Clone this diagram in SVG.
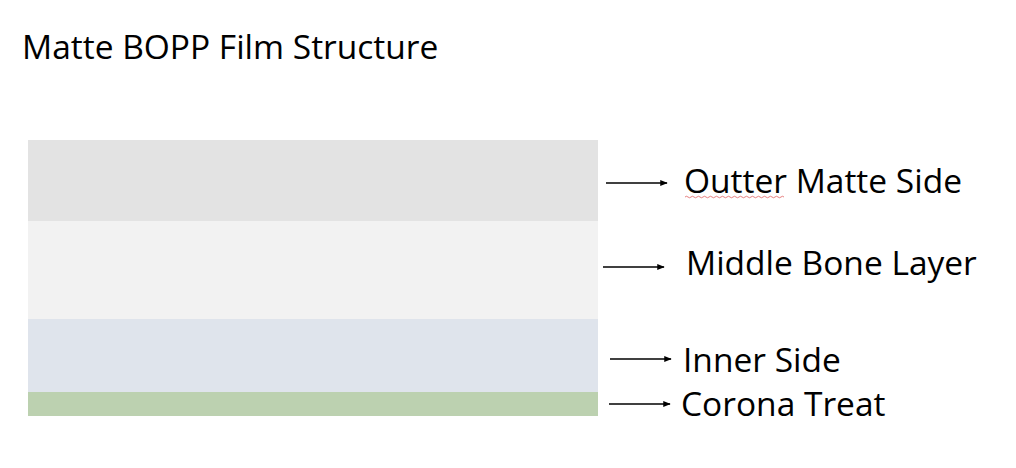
<svg xmlns="http://www.w3.org/2000/svg" width="1016" height="468" viewBox="0 0 1016 468">
<defs>
<marker id="ah" viewBox="0 0 10 10" refX="9" refY="5" markerWidth="5" markerHeight="5" orient="auto" markerUnits="strokeWidth">
<path d="M0,1 L10,5 L0,9 z" fill="#000"/>
</marker>
<style>
.t{font-family:"Open Sans","Noto Sans",sans-serif;fill:#000}
.lbl{font-size:33.5px}
.arr{stroke:#000;stroke-width:1.5;fill:none;marker-end:url(#ah)}
</style>
</defs>
<rect width="1016" height="468" fill="#fff"/>
<text class="t" x="22" y="59" font-size="33.5">Matte BOPP Film Structure</text>
<g id="layer-outer"><rect x="28" y="140" width="570" height="81" fill="#e3e3e3"/></g>
<g id="layer-middle"><rect x="28" y="221" width="570" height="98" fill="#f2f2f2"/></g>
<g id="layer-inner"><rect x="28" y="319" width="570" height="73" fill="#dfe4ec"/></g>
<g id="layer-corona"><rect x="28" y="392" width="570" height="24" fill="#bcd1b0"/></g>
<g id="connectors">
<line class="arr" x1="606" y1="183" x2="667" y2="183"/>
<line class="arr" x1="603" y1="267" x2="664" y2="267"/>
<line class="arr" x1="610" y1="359" x2="671" y2="359"/>
<line class="arr" x1="609" y1="404" x2="670" y2="404"/>
</g>
<g id="label-outer">
<text class="t lbl" x="684" y="193">Outter Matte Side</text>
<path d="M685,197 q1.5,-1.5 3,0 t3,0 t3,0 t3,0 t3,0 t3,0 t3,0 t3,0 t3,0 t3,0 t3,0 t3,0 t3,0 t3,0 t3,0 t3,0 t3,0 t3,0 t3,0 t3,0 t3,0 t3,0 t3,0 t3,0 t3,0 t3,0 t3,0 t3,0 t3,0 t3,0 t3,0 t3,0 t3,0" fill="none" stroke="#e06060" stroke-width="0.8"/>
</g>
<g id="label-middle"><text class="t lbl" x="686" y="275">Middle Bone Layer</text></g>
<g id="label-inner"><text class="t lbl" x="683" y="372">Inner Side</text></g>
<g id="label-corona"><text class="t lbl" x="681" y="416">Corona Treat</text></g>
</svg>
